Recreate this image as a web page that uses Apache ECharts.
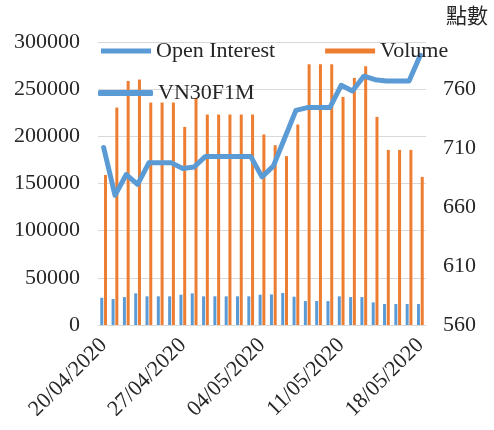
<!DOCTYPE html>
<html>
<head>
<meta charset="utf-8">
<script src="https://cdn.jsdelivr.net/npm/echarts@6/dist/echarts.min.js"></script>
<style>
  html, body { margin: 0; padding: 0; background: #fff; }
  #chart { width: 494px; height: 430px; }
</style>
</head>
<body>
<div id="chart"></div>
<script>
// daily categories, 20/04 .. 18/05/2020
const dates = [
  "20/04/2020", "21/04/2020", "22/04/2020", "23/04/2020", "24/04/2020", "25/04/2020", "26/04/2020",
  "27/04/2020", "28/04/2020", "29/04/2020", "30/04/2020", "01/05/2020", "02/05/2020", "03/05/2020",
  "04/05/2020", "05/05/2020", "06/05/2020", "07/05/2020", "08/05/2020", "09/05/2020", "10/05/2020",
  "11/05/2020", "12/05/2020", "13/05/2020", "14/05/2020", "15/05/2020", "16/05/2020", "17/05/2020",
  "18/05/2020"
];

const openInterest = [
  28900, 27500, 29600, 33500, 30400, 30400, 30400,
  32100, 33500, 30400, 30400, 30400, 30400, 30400,
  32100, 32400, 33900, 30000, 25400, 25400, 25400,
  30400, 29600, 29600, 24000, 22200, 22200, 22200,
  22200
];

const volume = [
  159000, 230500, 258700, 260200, 235800, 235800, 235800,
  210000, 240700, 223100, 223100, 223100, 223100, 223100,
  202000, 190600, 179000, 212500, 276400, 276400, 276400,
  241800, 261900, 274300, 220600, 185600, 185600, 185600,
  157000
];

const vn30f1m = [
  710.5, 670, 687.6, 679.2, 697.5, 697.5, 697.5,
  692.7, 694, 703, 703, 703, 703, 703,
  685.6, 694.7, 718.4, 742, 744.4, 744.4, 744.4,
  763.3, 758.5, 771, 768, 767, 767, 767,
  788.7
];

const blue = "#5B9BD5";
const orange = "#ED7D31";
const font = "'Liberation Serif', 'Times New Roman', serif";

const chart = echarts.init(document.getElementById("chart"));

const option = {
  animation: false,
  textStyle: { fontFamily: font },
  grid: { left: 98, right: 68, top: 42, bottom: 105 },
  legend: [
    {
      data: [
        { name: "Open Interest", icon: "rect" },
        { name: "Volume", icon: "rect" }
      ],
      left: 96,
      top: 35,
      itemWidth: 50,
      itemHeight: 5,
      itemGap: 50,
      textStyle: { fontFamily: font, fontSize: 22, color: "#262626" }
    },
    {
      data: [{ name: "VN30F1M", icon: "roundRect" }],
      left: 93,
      top: 77,
      itemWidth: 55,
      itemHeight: 6,
      textStyle: { fontFamily: font, fontSize: 22, color: "#262626" }
    }
  ],
  xAxis: {
    type: "category",
    data: dates,
    boundaryGap: true,
    axisLine: { lineStyle: { color: "#D9D9D9" } },
    axisTick: { interval: 6, length: 6, lineStyle: { color: "#D9D9D9" } },
    axisLabel: {
      interval: 6,
      rotate: 45,
      margin: 17,
      fontFamily: font,
      fontSize: 22,
      color: "#262626"
    }
  },
  yAxis: [
    {
      type: "value",
      min: 0,
      max: 300000,
      interval: 50000,
      axisLine: { show: false },
      axisTick: { show: false },
      axisLabel: {
        margin: 18,
        fontFamily: font,
        fontSize: 22,
        color: "#262626",
        formatter: function (v) {
          return String(v);
        }
      },
      splitLine: { lineStyle: { color: "#D9D9D9" } }
    },
    {
      type: "value",
      min: 560,
      max: 800,
      interval: 50,
      position: "right",
      name: "點數",
      nameLocation: "end",
      nameGap: 16,
      nameTextStyle: {
        fontFamily: "'Noto Sans CJK TC'",
        fontSize: 21,
        color: "#262626",
        align: "left",
        padding: [0, 0, 0, 20]
      },
      axisLine: { show: false },
      axisTick: { show: false },
      axisLabel: { margin: 17, showMaxLabel: false, fontFamily: font, fontSize: 22, color: "#262626" },
      splitLine: { show: false }
    }
  ],
  series: [
    {
      name: "Open Interest",
      type: "bar",
      yAxisIndex: 0,
      data: openInterest,
      barWidth: 3,
      barGap: "25%",
      itemStyle: { color: blue }
    },
    {
      name: "Volume",
      type: "bar",
      yAxisIndex: 0,
      data: volume,
      barWidth: 3,
      barGap: "25%",
      itemStyle: { color: orange }
    },
    {
      name: "VN30F1M",
      type: "line",
      yAxisIndex: 1,
      data: vn30f1m,
      showSymbol: false,
      symbol: "none",
      lineStyle: { color: blue, width: 5, join: "round", cap: "round" },
      itemStyle: { color: blue }
    }
  ]
};

chart.setOption(option);
</script>
</body>
</html>
